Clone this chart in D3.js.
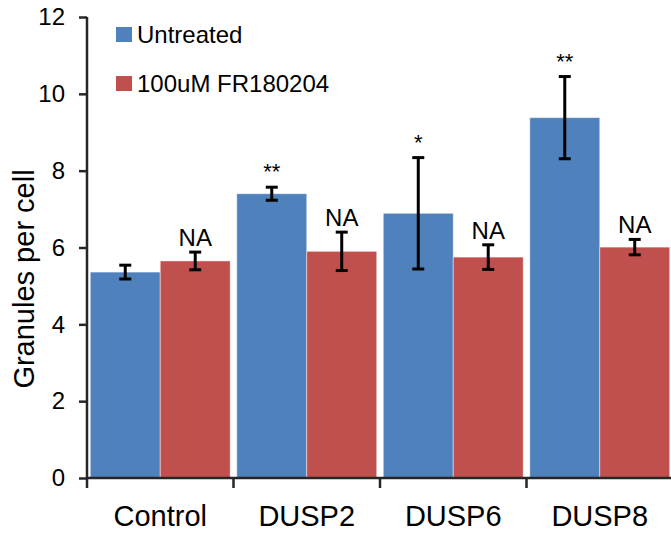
<!DOCTYPE html>
<html>
<head>
<meta charset="utf-8">
<script src="https://cdn.jsdelivr.net/npm/d3@7"></script>
<style>
  body { margin: 0; background: #fff; }
  svg { display: block; font-family: "Liberation Sans", Arial, sans-serif; }
</style>
</head>
<body>
<svg id="chart" width="671" height="533"></svg>
<script>
// data
const categories = ["Control", "DUSP2", "DUSP6", "DUSP8"];
const seriesNames = ["Untreated", "100uM FR180204"];
const untreated = [5.36, 7.40, 6.89, 9.38];
const untreatedErr = [0.18, 0.17, 1.45, 1.07];
const treated = [5.65, 5.90, 5.75, 6.01];
const treatedErr = [0.23, 0.50, 0.32, 0.20];
const untreatedLabels = ["", "**", "*", "**"];
const treatedLabels = ["NA", "NA", "NA", "NA"];
const yTicks = [0, 2, 4, 6, 8, 10, 12];
const colors = ["#4F81BD", "#C0504D"];

const margin = { top: 17, right: -2, bottom: 55, left: 87 };
const width = 671 - margin.left - margin.right;
const height = 533 - margin.top - margin.bottom;

const svgEl = d3.select("#chart");
const svg = svgEl.append("g")
  .attr("transform", `translate(${margin.left},${margin.top})`);

const x = d3.scaleBand().domain(categories).range([0, width]).paddingInner(0).paddingOuter(0);
const x1 = d3.scaleBand().domain(seriesNames).range([0, x.bandwidth()]).paddingOuter(0.047).paddingInner(0);
const y = d3.scaleLinear().domain([0, 12]).range([height, 0]);

// bars
const groups = categories.map((c, i) => ({
  cat: c,
  items: [
    { s: seriesNames[0], v: untreated[i], e: untreatedErr[i], lab: untreatedLabels[i], color: colors[0] },
    { s: seriesNames[1], v: treated[i], e: treatedErr[i], lab: treatedLabels[i], color: colors[1] }
  ]
}));

const g = svg.selectAll(".grp")
  .data(groups)
  .enter()
  .append("g")
  .attr("transform", (d) => `translate(${x(d.cat)},0)`);

const items = g.selectAll(".item")
  .data((d) => d.items)
  .enter()
  .append("g");

items.append("rect")
  .attr("x", (d) => x1(d.s))
  .attr("y", (d) => y(d.v))
  .attr("width", x1.bandwidth())
  .attr("height", (d) => y(0) - y(d.v))
  .attr("fill", (d) => d.color)
  .attr("stroke", "rgba(255,255,255,0.45)")
  .attr("stroke-width", 1);

// error bars
const cap = 6;
items.append("line")
  .attr("x1", (d) => x1(d.s) + x1.bandwidth() / 2)
  .attr("x2", (d) => x1(d.s) + x1.bandwidth() / 2)
  .attr("y1", (d) => y(d.v + d.e))
  .attr("y2", (d) => y(d.v - d.e))
  .attr("stroke", "#000")
  .attr("stroke-width", 3);
[1, -1].forEach((sgn) => {
  items.append("line")
    .attr("x1", (d) => x1(d.s) + x1.bandwidth() / 2 - cap)
    .attr("x2", (d) => x1(d.s) + x1.bandwidth() / 2 + cap)
    .attr("y1", (d) => y(d.v + sgn * d.e))
    .attr("y2", (d) => y(d.v + sgn * d.e))
    .attr("stroke", "#000")
    .attr("stroke-width", 3);
});

// significance labels
items.append("text")
  .attr("x", (d) => x1(d.s) + x1.bandwidth() / 2)
  .attr("y", (d) => y(d.v + d.e) - (d.lab === "NA" ? 6 : 8))
  .attr("text-anchor", "middle")
  .attr("font-size", (d) => d.lab === "NA" ? "24px" : "22px")
  .attr("fill", "#000")
  .text((d) => d.lab);

// y axis
const yAxis = d3.axisLeft(y).tickValues(yTicks).tickSize(8).tickPadding(14);
const yAxisGroup = svg.append("g").call(yAxis);
yAxisGroup.select(".domain").attr("d", `M0,${y(12)}V${y(0)}`);
yAxisGroup.selectAll("line, .domain").attr("stroke", "#262626").attr("stroke-width", 2.5);
yAxisGroup.selectAll("text")
  .attr("font-size", "24px")
  .attr("fill", "#000")
  .attr("font-family", "Liberation Sans, Arial, sans-serif");

// x axis
const xAxisGroup = svg.append("g").attr("transform", `translate(0,${height})`);
xAxisGroup.append("line")
  .attr("x1", 0).attr("x2", width)
  .attr("stroke", "#262626").attr("stroke-width", 2.5);
xAxisGroup.selectAll(".tk")
  .data(categories.concat([null]))
  .enter()
  .append("line")
  .attr("x1", (d) => d === null ? width : x(d))
  .attr("x2", (d) => d === null ? width : x(d))
  .attr("y1", 0).attr("y2", 10)
  .attr("stroke", "#262626").attr("stroke-width", 2.5);
xAxisGroup.selectAll(".lbl")
  .data(categories)
  .enter()
  .append("text")
  .attr("x", (d) => x(d) + x.bandwidth() / 2)
  .attr("y", 48)
  .attr("text-anchor", "middle")
  .attr("font-size", "29px")
  .attr("fill", "#000")
  .text((d) => d);

// y title
svgEl.append("text")
  .attr("transform", `translate(34,279) rotate(-90)`)
  .attr("text-anchor", "middle")
  .attr("font-size", "29px")
  .attr("fill", "#000")
  .text("Granules per cell");

// legend
const legend = svgEl.append("g").attr("transform", "translate(116,27)");
seriesNames.forEach((name, i) => {
  const row = legend.append("g").attr("transform", `translate(0,${i * 49})`);
  row.append("rect").attr("width", 16).attr("height", 15).attr("fill", colors[i]);
  row.append("text")
    .attr("x", 21).attr("y", 16)
    .attr("font-size", "24px")
    .attr("fill", "#000")
    .text(name);
});
</script>
</body>
</html>
